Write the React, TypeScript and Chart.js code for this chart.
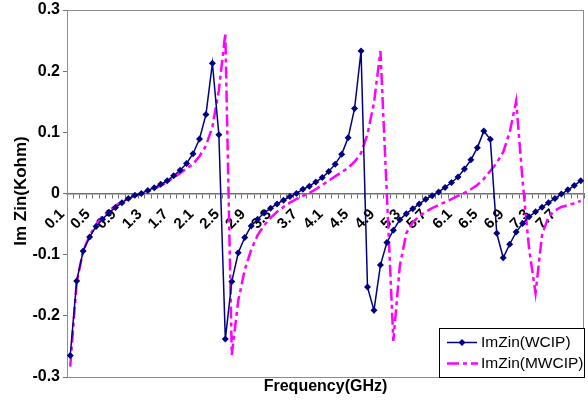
import React, { useEffect, useRef } from 'react';
import { Chart, registerables } from 'chart.js';

Chart.register(...registerables);

const freqLabels = [
  '0.1', '0.2', '0.3', '0.4', '0.5', '0.6', '0.7', '0.8', '0.9', '1',
  '1.1', '1.2', '1.3', '1.4', '1.5', '1.6', '1.7', '1.8', '1.9', '2',
  '2.1', '2.2', '2.3', '2.4', '2.5', '2.6', '2.7', '2.8', '2.9', '3',
  '3.1', '3.2', '3.3', '3.4', '3.5', '3.6', '3.7', '3.8', '3.9', '4',
  '4.1', '4.2', '4.3', '4.4', '4.5', '4.6', '4.7', '4.8', '4.9', '5',
  '5.1', '5.2', '5.3', '5.4', '5.5', '5.6', '5.7', '5.8', '5.9', '6',
  '6.1', '6.2', '6.3', '6.4', '6.5', '6.6', '6.7', '6.8', '6.9', '7',
  '7.1', '7.2', '7.3', '7.4', '7.5', '7.6', '7.7', '7.8', '7.9', '8',
];

const imZinWCIP = [
  -0.265, -0.143, -0.094, -0.071, -0.054, -0.042, -0.031, -0.023, -0.015, -0.008,
  -0.003, 0.0, 0.005, 0.0095, 0.015, 0.021, 0.029, 0.038, 0.049, 0.065,
  0.089, 0.129, 0.213, 0.096, -0.238, -0.144, -0.097, -0.072, -0.053, -0.042,
  -0.032, -0.024, -0.017, -0.011, -0.005, 0.0, 0.007, 0.012, 0.019, 0.026,
  0.036, 0.048, 0.064, 0.091, 0.139, 0.233, -0.153, -0.191, -0.117, -0.08,
  -0.06, -0.043, -0.033, -0.025, -0.017, -0.0095, -0.0035, 0.0025, 0.01, 0.018,
  0.027, 0.04, 0.055, 0.075, 0.102, 0.0885, -0.065, -0.105, -0.083, -0.063,
  -0.049, -0.038, -0.03, -0.0225, -0.015, -0.008, -0.001, 0.006, 0.013, 0.021,
];

const imZinMWCIP = [
  -0.283, -0.145, -0.094, -0.069, -0.051, -0.037, -0.028, -0.02, -0.013, -0.008,
  -0.004, -0.001, 0.003, 0.008, 0.013, 0.019, 0.026, 0.033, 0.041, 0.048,
  0.061, 0.078, 0.109, 0.169, 0.262, -0.264, -0.175, -0.125, -0.092, -0.068,
  -0.052, -0.04, -0.03, -0.022, -0.015, -0.009, -0.004, 0.001, 0.007, 0.014,
  0.021, 0.028, 0.035, 0.042, 0.052, 0.066, 0.097, 0.148, 0.233, -0.003,
  -0.241, -0.118, -0.065, -0.047, -0.037, -0.03, -0.024, -0.019, -0.014, -0.009,
  -0.004, 0.001, 0.007, 0.014, 0.024, 0.037, 0.05, 0.068, 0.1, 0.151,
  0.02, -0.09, -0.163, -0.068, -0.038, -0.028, -0.022, -0.019, -0.016, -0.012,
];

const yTickLabels = ['-0.3', '-0.2', '-0.1', '0', '0.1', '0.2', '0.3'];
const seriesNames = ['ImZin(WCIP)', 'ImZin(MWCIP)'];
const xTitle = 'Frequency(GHz)';
const yTitle = 'Im Zin(Kohm)';

const FONT = '"Liberation Sans", Arial, sans-serif';
const BLUE = '#000080';
const PINK = '#FF00FF';
const PINK_DASH = [12, 4, 4, 4];

export default function App() {
  const ref = useRef<HTMLCanvasElement>(null);

  useEffect(() => {
    const canvas = ref.current;
    if (!canvas) return;

    const extras = {
      id: 'extras',
      beforeDatasetsDraw(chart: any) {
        const { ctx, chartArea: a } = chart;
        ctx.save();
        ctx.strokeStyle = '#8c8c8c';
        ctx.lineWidth = 1;
        ctx.strokeRect(Math.round(a.left) + 0.5, Math.round(a.top) + 0.5,
          Math.round(a.right - a.left) - 1, Math.round(a.bottom - a.top));
        ctx.restore();
      },
      afterDraw(chart: any) {
        const { ctx, chartArea: a } = chart;
        ctx.save();
        // axis titles
        ctx.fillStyle = '#000';
        ctx.font = `bold 16px ${FONT}`;
        ctx.textAlign = 'center';
        ctx.textBaseline = 'middle';
        ctx.fillText(xTitle, (a.left + a.right) / 2, 387);
        ctx.save();
        ctx.translate(21, 191);
        ctx.rotate(-Math.PI / 2);
        ctx.font = `bold 17px ${FONT}`;
        ctx.fillText(yTitle, 0, 0);
        ctx.restore();

        // legend
        const lx = 439.5, ly = 328.5, lw = 145, lh = 49;
        ctx.fillStyle = '#fff';
        ctx.fillRect(lx, ly, lw, lh);
        ctx.strokeStyle = '#000';
        ctx.lineWidth = 1;
        ctx.strokeRect(lx, ly, lw, lh);

        const r1 = 342.5, r2 = 363.5;
        ctx.strokeStyle = BLUE;
        ctx.lineWidth = 1.5;
        ctx.beginPath();
        ctx.moveTo(447, r1);
        ctx.lineTo(477, r1);
        ctx.stroke();
        ctx.fillStyle = BLUE;
        ctx.beginPath();
        ctx.moveTo(462, r1 - 3.5);
        ctx.lineTo(465.5, r1);
        ctx.lineTo(462, r1 + 3.5);
        ctx.lineTo(458.5, r1);
        ctx.closePath();
        ctx.fill();

        ctx.strokeStyle = PINK;
        ctx.lineWidth = 2.5;
        ctx.setLineDash(PINK_DASH);
        ctx.beginPath();
        ctx.moveTo(447, r2);
        ctx.lineTo(478, r2);
        ctx.stroke();
        ctx.setLineDash([]);

        ctx.fillStyle = '#000';
        ctx.font = `15.5px ${FONT}`;
        ctx.textAlign = 'left';
        ctx.fillText(seriesNames[0], 481, r1 + 0.5);
        ctx.fillText(seriesNames[1], 481, r2 + 0.5);
        ctx.restore();
      },
    };

    const chart = new Chart(canvas, {
      type: 'line',
      data: {
        labels: freqLabels,
        datasets: [
          {
            label: seriesNames[0],
            data: imZinWCIP,
            borderColor: BLUE,
            backgroundColor: BLUE,
            borderWidth: 1.5,
            pointStyle: 'rectRot',
            pointRadius: 3.5,
            pointBorderWidth: 0,
            pointBackgroundColor: BLUE,
            tension: 0,
          },
          {
            label: seriesNames[1],
            data: imZinMWCIP,
            borderColor: PINK,
            backgroundColor: PINK,
            borderWidth: 2.5,
            borderDash: PINK_DASH,
            pointRadius: 0,
            tension: 0,
          },
        ],
      },
      options: {
        responsive: false,
        animation: false,
        layout: { padding: { left: 0, right: 4, top: 10, bottom: 27 } },
        plugins: {
          legend: { display: false },
          tooltip: { enabled: false },
        },
        scales: {
          x: {
            type: 'category',
            position: { y: 0 },
            offset: true,
            grid: {
              offset: true,
              drawOnChartArea: false,
              tickLength: 4,
              color: '#707070',
              lineWidth: 1,
            },
            border: { color: '#707070', width: 1.5 },
            ticks: {
              autoSkip: false,
              maxRotation: 45,
              minRotation: 45,
              padding: 8,
              labelOffset: -8,
              color: '#000',
              font: { family: FONT, size: 15, weight: 'bold' },
              callback: (_v: any, i: number) => (i % 4 === 0 ? freqLabels[i] : ''),
            },
            afterFit: (s: any) => {
              s.paddingLeft = 0;
              s.paddingRight = 0;
              s.paddingTop = 0;
              s.paddingBottom = 0;
            },
          },
          y: {
            min: -0.3,
            max: 0.3,
            grid: {
              drawOnChartArea: false,
              tickLength: 4,
              color: '#707070',
            },
            border: { color: '#606060', width: 1 },
            ticks: {
              stepSize: 0.1,
              padding: 3,
              color: '#000',
              font: { family: FONT, size: 16, weight: 'bold' },
              callback: (_v: any, i: number) => yTickLabels[i],
            },
            afterFit: (s: any) => {
              s.width = 67;
              s.paddingTop = 0;
              s.paddingBottom = 0;
            },
          },
        },
      },
      plugins: [extras],
    } as any);

    return () => chart.destroy();
  }, []);

  return (
    <div style={{ position: 'absolute', left: 0, top: 0, width: 588, height: 404 }}>
      <canvas ref={ref} width={588} height={404} style={{ display: 'block' }} />
    </div>
  );
}
